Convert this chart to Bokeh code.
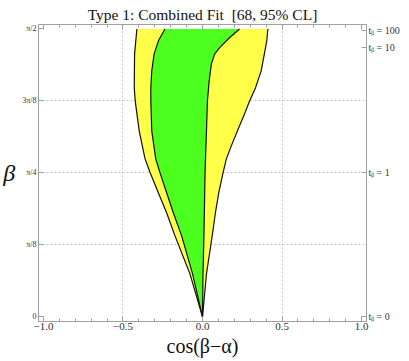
import math
from bokeh.plotting import figure
from bokeh.models import LinearAxis, FixedTicker, Range1d, CustomJSTickFormatter, Grid
from bokeh.embed import file_html
from bokeh.resources import INLINE

TITLE = "Type 1: Combined Fit\u00a0 [68, 95% CL]"
X_LABEL = "cos(β−α)"
Y_LABEL = "β"

# 95% CL region boundaries (beta in rad, x = cos(beta - alpha))
outer_left_beta = [0.0, 0.235, 0.442, 0.567, 0.676, 0.786, 0.862, 1.015, 1.178, 1.249, 1.435, 1.5708]
outer_left_x = [0.0, -0.079, -0.173, -0.225, -0.277, -0.329, -0.361, -0.398, -0.423, -0.429, -0.427, -0.4125]
outer_right_beta = [0.0, 0.235, 0.442, 0.567, 0.676, 0.786, 0.862, 0.933, 1.026, 1.107, 1.178, 1.249, 1.342, 1.435, 1.506, 1.5708]
outer_right_x = [0.0, 0.025, 0.061, 0.081, 0.102, 0.129, 0.150, 0.181, 0.225, 0.264, 0.296, 0.333, 0.369, 0.389, 0.404, 0.411]

# 68% CL region boundaries
inner_left_beta = [0.0, 0.235, 0.442, 0.567, 0.676, 0.786, 0.862, 1.015, 1.178, 1.249, 1.342, 1.435, 1.506, 1.5708]
inner_left_x = [0.0, -0.0625, -0.131, -0.183, -0.225, -0.267, -0.294, -0.319, -0.325, -0.325, -0.319, -0.304, -0.277, -0.236]
inner_right_beta = [0.0, 0.235, 0.442, 0.786, 1.015, 1.178, 1.288, 1.380, 1.435, 1.469, 1.524, 1.5708]
inner_right_x = [0.0, 0.003, 0.009, 0.016, 0.025, 0.031, 0.042, 0.056, 0.077, 0.108, 0.171, 0.233]

X_TICKS = [-1.0, -0.5, 0.0, 0.5, 1.0]
X_MINOR = [round(-1.0 + 0.1 * i, 1) for i in range(21)]
Y_TICKS = [0.0, math.pi / 8, math.pi / 4, 3 * math.pi / 8, math.pi / 2]
Y_TICK_LABELS = ["0", "π/8", "π/4", "3π/8", "π/2"]
TB_VALUES = [0, 1, 10, 100]
TB_LABELS = ["tᵦ = 0", "tᵦ = 1", "tᵦ = 10", "tᵦ = 100"]
TB_TICKS = [math.atan(v) for v in TB_VALUES]

YELLOW = "#ffff4a"
GREEN = "#4cff1f"
AXIS_COLOR = "#a0a0a0"
FONT = "Liberation Serif"

p = figure(width=409, height=361, output_backend="svg", toolbar_location=None,
           x_range=Range1d(-1.031, 1.031), y_range=Range1d(-0.025, 1.595),
           min_border_left=36, min_border_right=43, min_border_top=24, min_border_bottom=40,
           x_axis_location=None, y_axis_location=None)
p.outline_line_color = AXIS_COLOR
p.background_fill_color = "white"

# regions
p.patch(outer_left_x + outer_right_x[::-1], outer_left_beta + outer_right_beta[::-1],
        fill_color=YELLOW, line_alpha=0)
p.patch(inner_left_x + inner_right_x[::-1], inner_left_beta + inner_right_beta[::-1],
        fill_color=GREEN, line_alpha=0)
for xs, ys in [(outer_left_x, outer_left_beta), (outer_right_x, outer_right_beta),
               (inner_left_x, inner_left_beta), (inner_right_x, inner_right_beta)]:
    p.line(xs, ys, line_color="#111111", line_width=1.2)

lookup_code = """
let best = 0; let bd = 1e9;
for (let i = 0; i < tvals.length; i++) {
  const d = Math.abs(tvals[i] - tick);
  if (d < bd) { bd = d; best = i; }
}
return tlabels[best];
"""


def style_axis(ax, major_ticks, minor_ticks):
    ax.ticker = FixedTicker(ticks=major_ticks, minor_ticks=minor_ticks)
    ax.axis_line_color = AXIS_COLOR
    ax.major_tick_line_color = AXIS_COLOR
    ax.minor_tick_line_color = AXIS_COLOR
    ax.major_tick_in = 5
    ax.major_tick_out = 0
    ax.minor_tick_in = 3
    ax.minor_tick_out = 0
    ax.major_label_text_font = FONT
    ax.major_label_text_color = "#333333"
    ax.major_label_text_line_height = 1.0
    ax.axis_label_text_font = FONT
    ax.axis_label_text_color = "#111111"
    ax.axis_label_text_font_style = "normal"
    ax.axis_label_text_line_height = 1.0


bottom = LinearAxis()
style_axis(bottom, X_TICKS, X_MINOR)
bottom.formatter = CustomJSTickFormatter(code="return tick.toFixed(1).replace('-', '\u2212');")
bottom.major_label_text_font_size = "11px"
bottom.major_label_standoff = 1
bottom.axis_label = X_LABEL
bottom.axis_label_text_font_size = "20px"
bottom.axis_label_standoff = 2
p.add_layout(bottom, "below")

top = LinearAxis()
style_axis(top, X_TICKS, X_MINOR)
top.formatter = CustomJSTickFormatter(code="return '';")
top.major_label_standoff = 0
top.axis_label = TITLE
top.axis_label_text_font_size = "15.5px"
top.axis_label_standoff = 2
p.add_layout(top, "above")

left = LinearAxis()
style_axis(left, Y_TICKS, [])
left.formatter = CustomJSTickFormatter(args=dict(tvals=Y_TICKS, tlabels=Y_TICK_LABELS), code=lookup_code)
left.major_label_text_font_size = "8px"
left.major_label_standoff = 2
left.axis_label = Y_LABEL
left.axis_label_text_font_size = "24px"
left.axis_label_text_font_style = "italic"
left.axis_label_standoff = 4
if "axis_label_orientation" in left.properties():
    left.axis_label_orientation = "horizontal"
p.add_layout(left, "left")

right = LinearAxis()
style_axis(right, TB_TICKS, [])
right.formatter = CustomJSTickFormatter(args=dict(tvals=TB_TICKS, tlabels=TB_LABELS), code=lookup_code)
right.major_label_text_font_size = "10px"
right.major_label_standoff = 2
p.add_layout(right, "right")

# grid
p.xgrid.visible = False
p.ygrid.visible = False
gx = Grid(dimension=0, ticker=FixedTicker(ticks=[-0.5, 0.0, 0.5]),
          grid_line_color="#c4c4c4", grid_line_dash="2 2", grid_line_width=1)
gy = Grid(dimension=1, ticker=FixedTicker(ticks=Y_TICKS[1:4]),
          grid_line_color="#c4c4c4", grid_line_dash="2 2", grid_line_width=1)
p.add_layout(gx)
p.add_layout(gy)

open("out.html", "w").write(file_html(p, INLINE))
